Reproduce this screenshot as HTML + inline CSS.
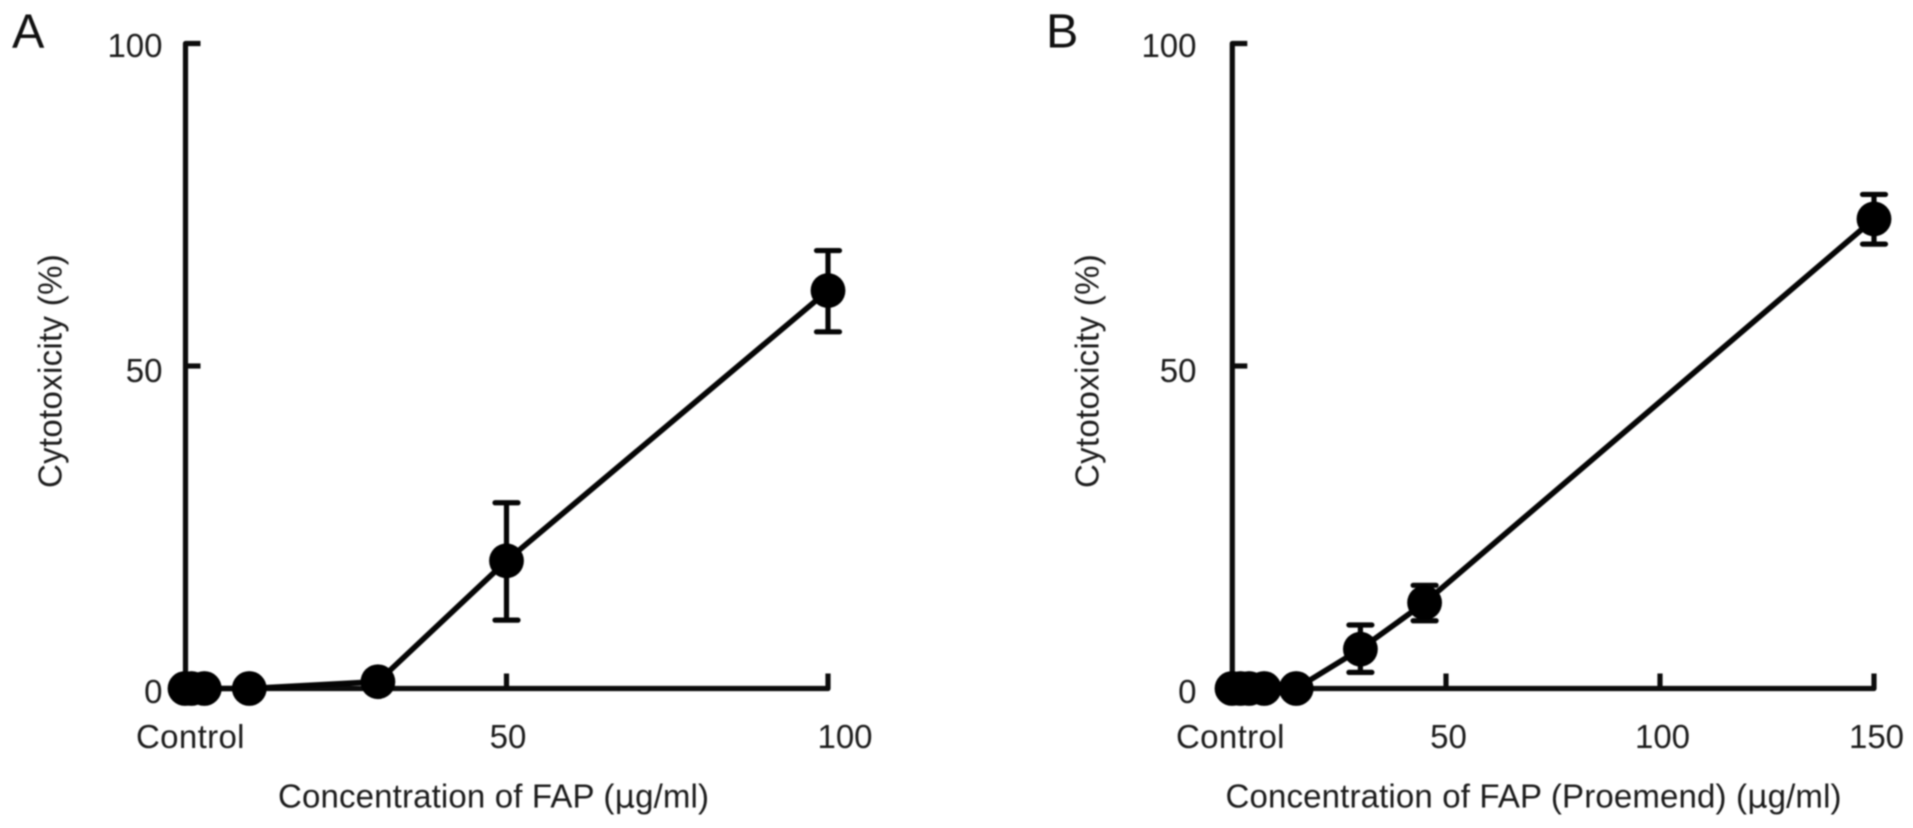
<!DOCTYPE html>
<html lang="en">
<head>
<meta charset="utf-8">
<title>Cytotoxicity of FAP</title>
<style>
html,body{margin:0;padding:0;background:#fff;width:1913px;height:828px;overflow:hidden}
svg{display:block;filter:blur(0.7px)}
text{font-family:"Liberation Sans",Arial,sans-serif;font-size:33px;fill:#1c1c1c}
.panel-letter{font-size:48.5px;fill:#111}
.mu{font-family:"DejaVu Sans","Liberation Sans",sans-serif;font-size:32px}
</style>
</head>
<body>
<svg id="figure" xmlns="http://www.w3.org/2000/svg" width="1913" height="828" viewBox="0 0 1913 828"></svg>
<script>
// Panel A data
const concA = [0, 1, 3, 10, 30, 50, 100];
const cytoA = [0, 0, 0, 0, 1.05, 19.8, 61.7];
const errUpA = [0, 0, 0, 0, 0, 28.8, 67.9];
const errDownA = [0, 0, 0, 0, 0, 10.6, 55.3];
const xTicksA = [0, 50, 100];
const xTickLabelsA = ["Control", "50", "100"];

// Panel B data
const concB = [0, 2, 4, 7.5, 15, 30, 45, 150];
const cytoB = [0, 0, 0, 0, 0, 6.1, 13.3, 72.8];
const errUpB = [0, 0, 0, 0, 0, 9.85, 16.0, 76.6];
const errDownB = [0, 0, 0, 0, 0, 2.5, 10.5, 68.9];
const xTicksB = [0, 50, 100, 150];
const xTickLabelsB = ["Control", "50", "100", "150"];

// Shared y axis
const yTicks = [0, 50, 100];
const yTickLabels = ["0", "50", "100"];

const svg = document.getElementById("figure");
const NS = "http://www.w3.org/2000/svg";

function mk(tag, attrs, parent) {
  const el = document.createElementNS(NS, tag);
  for (const k in attrs) el.setAttribute(k, attrs[k]);
  parent.appendChild(el);
  return el;
}

const yScale = v => 688.5 - v * 6.45;

function drawPanel(p) {
  const x = p.xScale;
  const g = mk("g", {}, svg);
  
  

  const letter = mk("text", { x: p.letterX, y: 47.5, class: "panel-letter" }, g);
  letter.textContent = p.id.toUpperCase();
  
  

  // axes frame: top tick, y axis, x axis, last tick
  const lastTick = p.xTicks[p.xTicks.length - 1];
  const axis = mk("path", {
    d: "M" + (p.axisX + 15) + " " + yScale(100) + "H" + p.axisX + "V" + yScale(0) + "H" + x(lastTick) + "V" + (yScale(0) - 15),
    fill: "none", stroke: "#0c0c0c", "stroke-width": 5.2, "stroke-linejoin": "round", "stroke-linecap": "butt"
  }, g);
  
  

  // y ticks
  yTicks.forEach((v, i) => {
    if (v > 0 && v < 100) {
      const t = mk("line", { x1: p.axisX, x2: p.axisX + 15, y1: yScale(v), y2: yScale(v), stroke: "#0c0c0c", "stroke-width": 5.2 }, g);
      
      
    }
    const labelY = yScale(v) + (v === 0 ? 14.5 : v === 50 ? 16.2 : 13.5);
    const lab = mk("text", { x: p.yLabelX, y: labelY, "text-anchor": "end" }, g);
    lab.textContent = yTickLabels[i];
    
    
  });

  // x ticks
  p.xTicks.forEach((v, i) => {
    if (v > 0 && v !== lastTick) {
      const t = mk("line", { x1: x(v), x2: x(v), y1: yScale(0), y2: yScale(0) - 15, stroke: "#0c0c0c", "stroke-width": 5.2 }, g);
      
      
    }
    const attrs = v === 0
      ? { x: p.controlX, y: 748, "letter-spacing": "0.35" }
      : { x: x(v) + p.xLabelDx(i), y: 748, "text-anchor": "middle" };
    const lab = mk("text", attrs, g);
    lab.textContent = p.xTickLabels[i];
    
    
  });

  // axis titles
  const xTitle = mk("text", { x: p.titleX, y: 807.5, "letter-spacing": "0.15" }, g);
  
  
  xTitle.appendChild(document.createTextNode(p.xTitleStart));
  const mu = mk("tspan", { class: "mu" }, xTitle);
  mu.textContent = "μ";
  xTitle.appendChild(document.createTextNode("g/ml)"));

  const yTitle = mk("text", { transform: "translate(" + p.yTitleX + ",488) rotate(-90)", "letter-spacing": "0.3" }, g);
  yTitle.textContent = "Cytotoxicity (%)";
  
  

  // series line
  const pts = p.conc.map((c, i) => x(c) + "," + yScale(p.cyto[i])).join(" ");
  const line = mk("polyline", { points: pts, fill: "none", stroke: "#050505", "stroke-width": 5.6, "stroke-linejoin": "round" }, g);
  
  

  // error bars
  p.conc.forEach((c, i) => {
    if (p.errUp[i] === 0 && p.errDown[i] === 0) return;
    const cx = x(c);
    const top = yScale(p.errUp[i]);
    const bottom = yScale(p.errDown[i]);
    const bar = mk("path", {
      d: "M" + (cx - 11.5) + " " + top + "H" + (cx + 11.5) + "M" + cx + " " + top + "V" + bottom + "M" + (cx - 11.5) + " " + bottom + "H" + (cx + 11.5),
      fill: "none", stroke: "#050505", "stroke-width": 5.2, "stroke-linecap": "round"
    }, g);
    
    
  });

  // points
  p.conc.forEach((c, i) => {
    const pt = mk("circle", { cx: x(c), cy: yScale(p.cyto[i]), r: 17.4, fill: "#000" }, g);
    
    
  });
}

drawPanel({
  id: "a",
  conc: concA, cyto: cytoA, errUp: errUpA, errDown: errDownA,
  xTicks: xTicksA, xTickLabels: xTickLabelsA,
  xScale: v => 185 + v * 6.43,
  axisX: 185.5, yLabelX: 162.5, controlX: 136, letterX: 12,
  xLabelDx: i => (i === 2 ? 17 : 1.5),
  titleX: 278, yTitleX: 61.5,
  xTitleStart: "Concentration of FAP ("
});

drawPanel({
  id: "b",
  conc: concB, cyto: cytoB, errUp: errUpB, errDown: errDownB,
  xTicks: xTicksB, xTickLabels: xTickLabelsB,
  xScale: v => 1232 + v * 4.28,
  axisX: 1232.3, yLabelX: 1196.5, controlX: 1176, letterX: 1046,
  xLabelDx: i => 2.5,
  titleX: 1225.5, yTitleX: 1098.5,
  xTitleStart: "Concentration of FAP (Proemend) ("
});
</script>
</body>
</html>
